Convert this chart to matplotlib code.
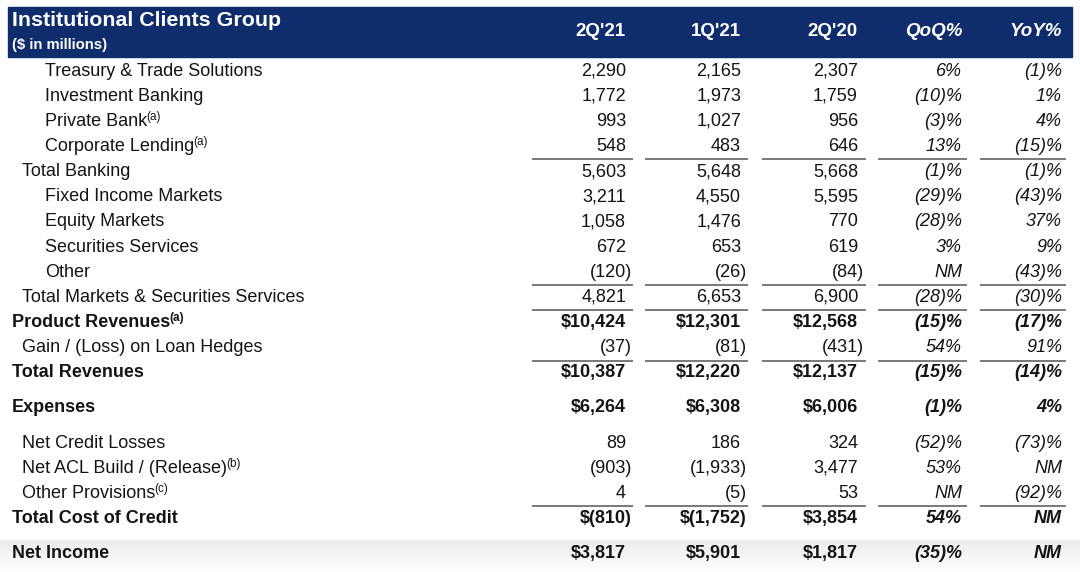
import matplotlib
matplotlib.use("Agg")
import matplotlib.pyplot as plt
import numpy as np

plt.rcParams['font.family'] = ['Liberation Sans', 'DejaVu Sans']

# ---- data ----
title = "Institutional Clients Group"
subtitle = "($ in millions)"
columns = ["2Q'21", "1Q'21", "2Q'20", "QoQ%", "YoY%"]

labels = ["Treasury & Trade Solutions", "Investment Banking", "Private Bank",
          "Corporate Lending", "Total Banking", "Fixed Income Markets",
          "Equity Markets", "Securities Services", "Other",
          "Total Markets & Securities Services", "Product Revenues",
          "Gain / (Loss) on Loan Hedges", "Total Revenues", "Expenses",
          "Net Credit Losses", "Net ACL Build / (Release)", "Other Provisions",
          "Total Cost of Credit", "Net Income"]
notes = ["", "", "(a)", "(a)", "", "", "", "", "", "", "(a)", "", "", "",
         "", "(b)", "(c)", "", ""]
indent = [2, 2, 2, 2, 1, 2, 2, 2, 2, 1, 0, 1, 0, 0, 1, 1, 1, 0, 0]
bold = [False]*10 + [True, False, True, True, False, False, False, True, True]
underline = [3, 8, 9, 11, 16]
gap_before = [13, 14, 18]

q2_21 = [2290, 1772, 993, 548, 5603, 3211, 1058, 672, -120, 4821, 10424,
         -37, 10387, 6264, 89, -903, 4, -810, 3817]
q1_21 = [2165, 1973, 1027, 483, 5648, 4550, 1476, 653, -26, 6653, 12301,
         -81, 12220, 6308, 186, -1933, -5, -1752, 5901]
q2_20 = [2307, 1759, 956, 646, 5668, 5595, 770, 619, -84, 6900, 12568,
         -431, 12137, 6006, 324, 3477, 53, 3854, 1817]
qoq = [6, -10, -3, 13, -1, -29, -28, 3, None, -28, -15, 54, -15, -1, -52,
       53, None, 54, -35]
yoy = [-1, 1, 4, -15, -1, -43, 37, 9, -43, -30, -17, 91, -14, 4, -73,
       None, -92, None, None]


def fmt_num(v, dollar):
    s = f"{abs(v):,}"
    if v < 0:
        s = "(" + s + ")"
    return ("$" if dollar else "") + s


def fmt_pct(v):
    if v is None:
        return "NM"
    return f"({-v})%" if v < 0 else f"{v}%"


W, H = 1080, 572
fig = plt.figure(figsize=(W/100, H/100), dpi=100)
ax = fig.add_axes([0, 0, 1, 1])
ax.set_xlim(0, W)
ax.set_ylim(H, 0)
ax.axis('off')

navy = '#0f2d6d'
ink = '#141414'

# bottom soft shading
grad = np.linspace(0, 1, 50).reshape(-1, 1)
cm = matplotlib.colors.LinearSegmentedColormap.from_list('g', ['#ececec', '#ffffff'])
ax.imshow(grad, extent=[0, W, 572, 540], cmap=cm, aspect='auto', zorder=0)

# header band
ax.add_patch(plt.Rectangle((8, 7), 1064, 50, color=navy, zorder=1))
ax.text(12, 21, title, color='white', fontsize=15.4, fontweight='bold', va='center', zorder=2)
ax.text(12, 45, subtitle, color='white', fontsize=10.7, fontweight='bold', va='center', zorder=2)

num_right = [626, 741, 858]
pct_right = [962, 1062]
paren = 6
line_spans = [(532, 633), (645, 748), (762, 866), (878, 967), (980, 1066)]

for j, c in enumerate(columns):
    x = (num_right + pct_right)[j]
    style = 'italic' if j >= 3 else 'normal'
    ax.text(x, 32, c, color='white', fontsize=13.5, fontweight='bold', style=style,
            ha='right', va='center', zorder=2)

indent_x = {0: 12, 1: 22, 2: 45}
step = 25.15
gap = 10
y = 71
for i, lab in enumerate(labels):
    if i > 0:
        y += step + (gap if i in gap_before else 0)
    w = 'bold' if bold[i] else 'normal'
    t = ax.text(indent_x[indent[i]], y, lab, fontsize=13, fontweight=w, color=ink,
                va='center', ha='left')
    if notes[i]:
        ax.annotate(notes[i], xy=(1, 1), xycoords=t, xytext=(-0.5, 1.5),
                    textcoords='offset points', fontsize=8.5, fontweight=w,
                    color=ink, ha='left', va='top')
    for j, series in enumerate([q2_21, q1_21, q2_20]):
        v = series[i]
        x = num_right[j] + (paren if v < 0 else 0)
        ax.text(x, y, fmt_num(v, bold[i]), fontsize=13, fontweight=w, color=ink,
                ha='right', va='center')
    for j, series in enumerate([qoq, yoy]):
        ax.text(pct_right[j], y, fmt_pct(series[i]), fontsize=13, fontweight=w,
                style='italic', color=ink, ha='right', va='center')
    if i in underline:
        for x0, x1 in line_spans:
            ax.plot([x0, x1], [y + 13, y + 13], color='#6e6e6e', lw=1.3, solid_capstyle='butt')

fig.savefig('out.png', dpi=100)
